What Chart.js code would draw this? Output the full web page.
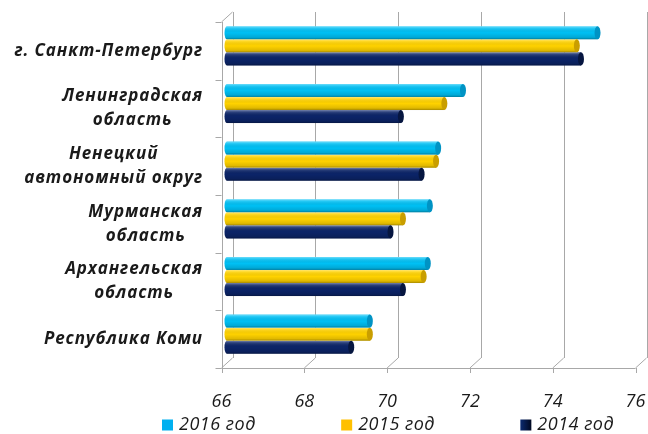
<!DOCTYPE html>
<html><head><meta charset="utf-8">
<script src="https://cdn.jsdelivr.net/npm/chart.js@4.4.0/dist/chart.umd.min.js"></script>
<style>html,body{margin:0;padding:0;background:#fff}#wrap{width:648px;height:434px;position:relative}</style>
</head><body><div id="wrap"><canvas id="c"></canvas></div>
<script>
const categories = [["г. Санкт-Петербург"],["Ленинградская","область"],["Ненецкий","автономный округ"],["Мурманская","область"],["Архангельская","область"],["Республика Коми"]];
const seriesLabels = ["2016 год","2015 год","2014 год"];
const values2016 = [74.95, 71.7, 71.1, 70.9, 70.85, 69.45];
const values2015 = [74.45, 71.25, 71.05, 70.25, 70.75, 69.45];
const values2014 = [74.55, 70.2, 70.7, 69.95, 70.25, 69.0];
const xTicks = [66, 68, 70, 72, 74, 76];

const FONT = '"Open Sans", Lato, sans-serif';
const barColors = ['#00C0F4', '#FFD200', '#0B2468'];
const capColors = ['#0093C4', '#C99E00', '#061640'];
const legendColors = ['#00B0F0', '#FFC000', '#002060'];
const DX = 5.5, DY = 5;

const wallPlugin = {
  id: 'wall',
  beforeDatasetsDraw(chart) {
    const {ctx, chartArea: {left, top, bottom}} = chart;
    const xs = chart.scales.x, ys = chart.scales.y;
    ctx.save();
    ctx.strokeStyle = '#A8A8A8';
    ctx.lineWidth = 1;
    const line = (x1, y1, x2, y2) => { ctx.beginPath(); ctx.moveTo(x1, y1); ctx.lineTo(x2, y2); ctx.stroke(); };
    const r = v => Math.round(v) + 0.5;
    xTicks.forEach(v => {
      const p = xs.getPixelForValue(v);
      line(r(p + DX), top - DY, r(p + DX), bottom - DY);
      line(p + DX, bottom - DY, p - DX, bottom + DY);
      line(r(p - DX), bottom + DY, r(p - DX), bottom + DY + 5);
    });
    const pEnd = xs.getPixelForValue(xTicks[xTicks.length - 1]);
    line(left - DX, r(bottom + DY), pEnd - DX, r(bottom + DY));
    line(r(left - DX), top + DY, r(left - DX), bottom + DY);
    line(left - DX, top + DY, left + DX, top - DY);
    for (let i = 0; i <= categories.length; i++) {
      const yb = ys.getPixelForValue(i - 0.5);
      line(left - DX - 6, r(yb + DY), left - DX, r(yb + DY));
    }
    ctx.restore();
  },
  afterDatasetsDraw(chart) {
    const ctx = chart.ctx;
    ctx.save();
    chart.data.datasets.forEach((ds, di) => {
      const meta = chart.getDatasetMeta(di);
      meta.data.forEach(el => {
        const h = el.height, y0 = el.y - h / 2, x0 = Math.min(el.base, el.x), x1 = Math.max(el.base, el.x);
        const g = ctx.createLinearGradient(0, y0, 0, y0 + h);
        g.addColorStop(0, 'rgba(255,255,255,0.45)');
        g.addColorStop(0.15, 'rgba(255,255,255,0.15)');
        g.addColorStop(0.5, 'rgba(0,0,0,0)');
        g.addColorStop(0.85, 'rgba(0,0,0,0.12)');
        g.addColorStop(1, 'rgba(0,0,0,0.35)');
        ctx.beginPath();
        ctx.ellipse(x0, el.y, 2.5, h / 2, 0, Math.PI / 2, Math.PI * 1.5);
        ctx.fillStyle = barColors[di];
        ctx.fill();
        ctx.fillStyle = g;
        ctx.beginPath();
        ctx.ellipse(x0, el.y, 2.5, h / 2, 0, Math.PI / 2, Math.PI * 1.5);
        ctx.fill();
        ctx.fillRect(x0, y0, x1 - x0, h);
        ctx.beginPath();
        ctx.ellipse(x1, el.y, 3, h / 2, 0, 0, Math.PI * 2);
        ctx.fillStyle = capColors[di];
        ctx.fill();
      });
    });
    ctx.restore();
  },
  afterDraw(chart) {
    const ctx = chart.ctx;
    const ys = chart.scales.y, left = chart.chartArea.left;
    ctx.save();
    ctx.font = 'italic bold 17px ' + FONT;
    ctx.letterSpacing = '0.9px';
    ctx.textBaseline = 'middle';
    ctx.fillStyle = '#1A1A1A';
    ctx.textAlign = 'center';
    const lh = 24;
    categories.forEach((lines, i) => {
      const yc = ys.getPixelForValue(i) + DY;
      const w = Math.max(...lines.map(s => ctx.measureText(s).width));
      const cx = left - 24 - w / 2;
      lines.forEach((s, k) => ctx.fillText(s, cx, yc + (k - (lines.length - 1) / 2) * lh));
    });
    ctx.textAlign = 'left';
    ctx.font = 'italic 18px ' + FONT;
    ctx.letterSpacing = '0.5px';
    chart.data.datasets.forEach((ds, i) => {
      const bx = chart.width * 0.25 + i * chart.width * 0.2765;
      const by = chart.height - 9;
      let fill = legendColors[i];
      if (i === 2) {
        const g = ctx.createLinearGradient(bx, 0, bx + 11, 0);
        g.addColorStop(0, '#0B2A70'); g.addColorStop(1, '#000820');
        fill = g;
      }
      ctx.fillStyle = fill;
      ctx.fillRect(bx, by - 5.5, 11, 11);
      ctx.fillStyle = '#1A1A1A';
      ctx.fillText(ds.label, bx + 17, by);
    });
    ctx.restore();
  }
};

new Chart(document.getElementById('c'), {
  type: 'bar',
  data: {
    labels: categories,
    datasets: [
      {label: seriesLabels[0], data: values2016, backgroundColor: barColors[0], base: xTicks[0]},
      {label: seriesLabels[1], data: values2015, backgroundColor: barColors[1], base: xTicks[0]},
      {label: seriesLabels[2], data: values2014, backgroundColor: barColors[2], base: xTicks[0]}
    ]
  },
  options: {
    indexAxis: 'y',
    responsive: true,
    maintainAspectRatio: false,
    animation: false,
    categoryPercentage: 0.68,
    barPercentage: 1,
    layout: {padding: {left: 0, right: 7, top: 17, bottom: 23}},
    plugins: {legend: {display: false}, tooltip: {enabled: false}},
    scales: {
      x: {
        min: 66, max: 76,
        afterBuildTicks(s) { s.ticks = xTicks.map(v => ({value: v})); },
        afterFit(s) { s.height = 48; s.paddingLeft = 0; s.paddingRight = 0; },
        grid: {display: false, drawTicks: false, tickLength: 0},
        border: {display: false},
        ticks: {padding: 28, labelOffset: -DX, color: '#1A1A1A', font: {family: FONT, size: 18, style: 'italic'}}
      },
      y: {
        afterFit(s) { s.width = 227; s.paddingTop = 0; s.paddingBottom = 0; },
        grid: {display: false, drawTicks: false, tickLength: 0},
        border: {display: false},
        ticks: {display: false}
      }
    }
  },
  plugins: [wallPlugin]
});
</script></body></html>
